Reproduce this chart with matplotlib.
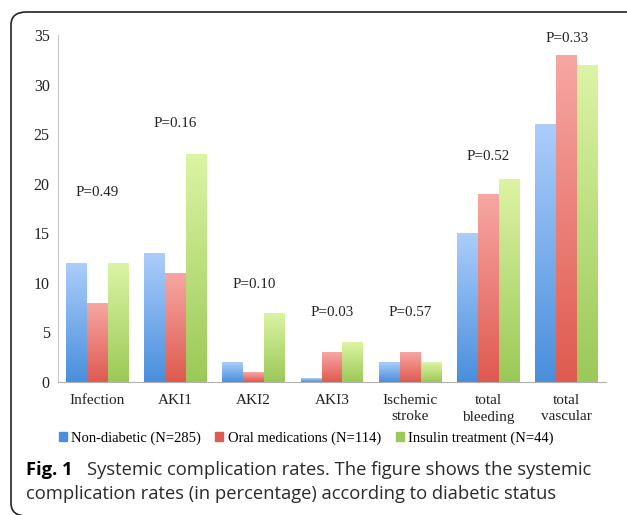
import numpy as np
import matplotlib
matplotlib.use("Agg")
import matplotlib.pyplot as plt
from matplotlib.colors import LinearSegmentedColormap
from matplotlib.patches import FancyBboxPatch, Rectangle

# data
categories = ["Infection", "AKI1", "AKI2", "AKI3", "Ischemic\nstroke",
              "total\nbleeding", "total\nvascular"]
non_diabetic = [12, 13, 2, 0.4, 2, 15, 26]
oral_meds = [8, 11, 1, 3, 3, 19, 33]
insulin = [12, 23, 7, 4, 2, 20.5, 32]
p_labels = ["P=0.49", "P=0.16", "P=0.10", "P=0.03", "P=0.57", "P=0.52", "P=0.33"]
p_heights = [19.1, 26.1, 9.8, 7.0, 7.0, 22.7, 34.6]
series_names = ["Non-diabetic (N=285)", "Oral medications (N=114)",
                "Insulin treatment (N=44)"]

# (top colour, bottom colour)
grads = [("#abcdfb", "#4a8fdc"), ("#f7a7a3", "#df5a50"), ("#dcf4a4", "#9bc957")]

serif = "Liberation Serif"

fig = plt.figure(figsize=(6.27, 5.15), dpi=100)
ax = fig.add_axes([58 / 627, 1 - 382 / 515, 548 / 627, 347 / 515])

x = np.arange(len(categories))
w = 0.268
series = [non_diabetic, oral_meds, insulin]

for i, vals in enumerate(series):
    bars = ax.bar(x + (i - 1) * w, vals, w, color=grads[i][1], zorder=2)
    cmap = LinearSegmentedColormap.from_list("g%d" % i, [grads[i][1], grads[i][0]])
    for b in bars:
        x0, y0 = b.get_x(), b.get_y()
        h = b.get_height()
        im = ax.imshow(np.linspace(0, 1, 100).reshape(-1, 1), cmap=cmap,
                       extent=[x0, x0 + b.get_width(), y0, y0 + h],
                       origin="lower", aspect="auto", zorder=3)
        im.set_clip_path(b)

for xi, lab, hy in zip(x, p_labels, p_heights):
    ax.text(xi, hy, lab, ha="center", va="center", fontsize=10.8,
            family=serif, color="#222222")

ax.set_xlim(-0.5, len(categories) - 0.5)
ax.set_ylim(0, 35)
ax.set_yticks(range(0, 36, 5))
ax.set_xticks(x)
ax.set_xticklabels(categories, family=serif, fontsize=11, linespacing=1.3)
for t in ax.get_yticklabels():
    t.set_family(serif)
    t.set_fontsize(11.5)
ax.tick_params(length=0, colors="#222222")
ax.tick_params(axis="y", pad=6)
ax.tick_params(axis="x", pad=9)
for s in ["top", "right"]:
    ax.spines[s].set_visible(False)
ax.spines["left"].set_color("#c8c8c8")
ax.spines["bottom"].set_color("#b0b0b0")

# legend
handles = [Rectangle((0, 0), 1, 1, color=grads[i][1]) for i in range(3)]
fig.legend(handles, series_names, loc="center", bbox_to_anchor=(306 / 627, 1 - 438 / 515),
           ncol=3, frameon=False, prop={"family": serif, "size": 10.5},
           handlelength=0.55, handleheight=0.55, handletextpad=0.3, columnspacing=1.0)

# frame around the figure panel
frame = FancyBboxPatch((11 / 627, 1 - 516 / 515), 700 / 627, 504 / 515,
                       boxstyle="round,pad=0,rounding_size=0.025",
                       transform=fig.transFigure, fill=False, edgecolor="#222222",
                       linewidth=1.2, clip_on=False)
fig.patches.append(frame)

# caption
cap = "Open Sans"
fig.text(26 / 627, 1 - 470 / 515, "Fig. 1", family=cap, weight="bold",
         fontsize=13.2, va="center")
fig.text(87 / 627, 1 - 470 / 515, "Systemic complication rates. The figure shows the systemic",
         family=cap, fontsize=13.2, va="center", color="#2a2a2a")
fig.text(26 / 627, 1 - 494 / 515,
         "complication rates (in percentage) according to diabetic status",
         family=cap, fontsize=13.2, va="center", color="#2a2a2a")

fig.savefig("out.png", dpi=100)
